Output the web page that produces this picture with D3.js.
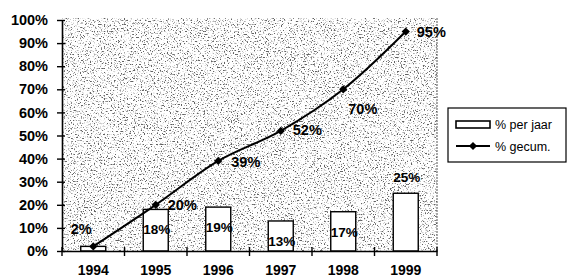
<!DOCTYPE html>
<html>
<head>
<meta charset="utf-8">
<script src="https://cdn.jsdelivr.net/npm/d3@7"></script>
<style>
  body { margin: 0; background: #fff; }
  text { font-family: "Liberation Sans", Arial, sans-serif; fill: #000; }
</style>
</head>
<body>
<div id="grafico"></div>
<script>
const width = 567
const height = 279

// data
const jaren = ['1994', '1995', '1996', '1997', '1998', '1999']
const perJaar = [0.02, 0.18, 0.19, 0.13, 0.17, 0.25]
const gecumuleerd = [0.02, 0.20, 0.39, 0.52, 0.70, 0.95]
const yTicks = [0, 0.1, 0.2, 0.3, 0.4, 0.5, 0.6, 0.7, 0.8, 0.9, 1]
const legendaLabels = ['% per jaar', '% gecum.']

// label placement (not data)
const barLabelPlek = ['none', 'in', 'in', 'in', 'in', 'out']
const cumLabelNudge = [[-12, -18, 'middle'], [12, 0, 'start'], [13, 1, 'start'], [12, -1, 'start'], [5, 19, 'start'], [11, 0, 'start']]

const plot = { left: 62, right: 437, top: 20, bottom: 251 }

const svg = d3.select('#grafico').append('svg')
              .attr('width', width)
              .attr('height', height)

// speckled scan-like background
const defs = svg.append('defs')
const filt = defs.append('filter').attr('id', 'spikkel')
                 .attr('x', 0).attr('y', 0).attr('width', 1).attr('height', 1)
filt.append('feTurbulence').attr('type', 'fractalNoise').attr('baseFrequency', 0.7)
    .attr('numOctaves', 2).attr('seed', 7).attr('result', 'ruis')
filt.append('feColorMatrix').attr('in', 'ruis').attr('type', 'matrix')
    .attr('values', '0 0 0 0 0.12  0 0 0 0 0.12  0 0 0 0 0.12  -6 0 0 0 2.75').attr('result', 'stip')
filt.append('feFlood').attr('flood-color', '#ffffff').attr('result', 'wit')
filt.append('feComposite').attr('in', 'stip').attr('in2', 'wit').attr('operator', 'over')

const x = d3.scaleBand()
            .domain(jaren)
            .range([plot.left, plot.right])
            .paddingInner(0.6)
            .paddingOuter(0.3)

const y = d3.scaleLinear()
            .domain([0, 1])
            .range([plot.bottom, plot.top])

svg.append('rect')
   .attr('x', plot.left).attr('y', plot.top - 2)
   .attr('width', plot.right - plot.left).attr('height', plot.bottom - plot.top + 2)
   .attr('fill', '#fff')
   .attr('filter', 'url(#spikkel)')

// right border of plot area
svg.append('line')
   .attr('x1', plot.right).attr('x2', plot.right)
   .attr('y1', plot.top - 2).attr('y2', plot.bottom)
   .attr('stroke', '#555').attr('stroke-width', 1).attr('stroke-dasharray', '2,1')

// bars
svg.selectAll('.bar')
   .data(perJaar)
   .enter()
   .append('rect')
   .attr('class', 'bar')
   .attr('x', (d, i) => x(jaren[i]))
   .attr('y', d => y(d))
   .attr('width', x.bandwidth())
   .attr('height', d => y(0) - y(d))
   .attr('fill', '#fff')
   .attr('stroke', '#000')
   .attr('stroke-width', 1.4)

// y axis
const yAxis = svg.append('g')
                 .attr('transform', `translate(${plot.left},0)`)
                 .call(d3.axisLeft(y).tickValues(yTicks).tickFormat(d3.format('.0%')).tickSizeInner(5).tickSizeOuter(0).tickPadding(9))
yAxis.select('.domain').attr('stroke-width', 1.6)
yAxis.selectAll('.tick line').attr('x1', 3).attr('stroke-width', 1.4)
yAxis.selectAll('.tick text').style('font-size', '14.5px').style('font-weight', 'bold')

// x axis
const xAxis = svg.append('g')
                 .attr('transform', `translate(0,${plot.bottom})`)
                 .call(d3.axisBottom(x).tickSize(0).tickPadding(14))
xAxis.select('.domain').attr('stroke-width', 1.6)
xAxis.selectAll('.tick text').style('font-size', '14px').style('font-weight', 'bold')

const grenzen = jaren.map(j => x(j) - x.step() * x.paddingInner() / 2).concat([plot.right])
xAxis.selectAll('.grens')
     .data(grenzen)
     .enter()
     .append('line')
     .attr('class', 'grens')
     .attr('x1', d => d).attr('x2', d => d)
     .attr('y1', -4).attr('y2', 5)
     .attr('stroke', '#000').attr('stroke-width', 1.4)

// cumulative line
const midden = j => x(j) + x.bandwidth() / 2
const lijn = d3.line()
               .x((d, i) => midden(jaren[i]))
               .y(d => y(d))
               .curve(d3.curveCatmullRom)

svg.append('path')
   .datum(gecumuleerd)
   .attr('d', lijn)
   .attr('fill', 'none')
   .attr('stroke', '#000')
   .attr('stroke-width', 2)

const ruit = d3.symbol().type(d3.symbolSquare).size(34)
svg.selectAll('.punt')
   .data(gecumuleerd)
   .enter()
   .append('path')
   .attr('class', 'punt')
   .attr('d', ruit)
   .attr('transform', (d, i) => `translate(${midden(jaren[i])},${y(d)}) rotate(45)`)
   .attr('fill', '#000')

// labels
const pct = d3.format('.0%')
svg.selectAll('.cumlabel')
   .data(gecumuleerd)
   .enter()
   .append('text')
   .attr('class', 'cumlabel')
   .attr('x', (d, i) => midden(jaren[i]) + cumLabelNudge[i][0])
   .attr('y', (d, i) => y(d) + cumLabelNudge[i][1])
   .attr('dy', '0.36em')
   .attr('text-anchor', (d, i) => cumLabelNudge[i][2])
   .style('font-size', '14.5px')
   .style('font-weight', 'bold')
   .text(d => pct(d))

svg.selectAll('.barlabel')
   .data(perJaar.map((d, i) => ({ waarde: d, jaar: jaren[i], plek: barLabelPlek[i] })).filter(d => d.plek !== 'none'))
   .enter()
   .append('text')
   .attr('class', 'barlabel')
   .attr('x', d => midden(d.jaar) + 1)
   .attr('y', d => d.plek === 'in' ? y(d.waarde) + 20 : y(d.waarde) - 16)
   .attr('dy', '0.36em')
   .attr('text-anchor', 'middle')
   .style('font-size', '13.5px')
   .style('font-weight', 'bold')
   .text(d => pct(d.waarde))

// legend
const legenda = svg.append('g').attr('transform', 'translate(448,108)')
legenda.append('rect')
       .attr('width', 118).attr('height', 54)
       .attr('fill', '#fff').attr('stroke', '#000').attr('stroke-width', 1.2)
legenda.append('rect')
       .attr('x', 8).attr('y', 13).attr('width', 34).attr('height', 7)
       .attr('fill', '#fff').attr('stroke', '#000').attr('stroke-width', 1.6)
legenda.append('line')
       .attr('x1', 8).attr('x2', 42).attr('y1', 38).attr('y2', 38)
       .attr('stroke', '#000').attr('stroke-width', 1.8)
legenda.append('path')
       .attr('d', ruit)
       .attr('transform', 'translate(25,38) rotate(45)')
legenda.selectAll('.legtekst')
       .data(legendaLabels)
       .enter()
       .append('text')
       .attr('class', 'legtekst')
       .attr('x', 47)
       .attr('y', (d, i) => 16 + i * 22)
       .attr('dy', '0.36em')
       .style('font-size', '12.5px')
       .text(d => d)
</script>
</body>
</html>
